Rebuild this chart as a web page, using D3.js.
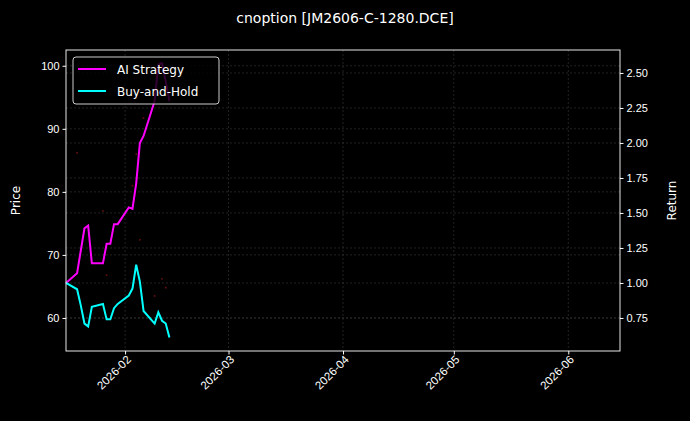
<!DOCTYPE html>
<html><head><meta charset="utf-8">
<script src="https://cdn.jsdelivr.net/npm/d3@7"></script>
<style>body{margin:0;background:#000}svg{font-family:"DejaVu Sans",sans-serif}</style>
</head><body><div id="chart"></div>
<script>
const width = 690, height = 421;
const margin = { top: 50, right: 70, bottom: 70, left: 66 };

const dates = ["2026-01-16","2026-01-19","2026-01-20","2026-01-21","2026-01-22","2026-01-23","2026-01-26","2026-01-27","2026-01-28","2026-01-29","2026-01-30","2026-02-02","2026-02-03","2026-02-04","2026-02-05","2026-02-06","2026-02-09","2026-02-10","2026-02-11","2026-02-12","2026-02-13"];
const aiStrategy = [1.0,1.07,1.23,1.39,1.41,1.14,1.14,1.28,1.28,1.42,1.42,1.54,1.53,1.71,2.0,2.05,2.30,2.56,2.57,2.44,2.30];
const buyHold = [1.0,0.955,0.84,0.71,0.69,0.83,0.85,0.74,0.74,0.82,0.85,0.91,0.96,1.13,1.01,0.80,0.71,0.79,0.73,0.71,0.61];
const priceDates = ["2026-01-19","2026-01-26","2026-01-27","2026-02-03","2026-02-04","2026-02-05","2026-02-06","2026-02-09","2026-02-11","2026-02-12"];
const prices = [86.2,77.0,66.8,81.0,86.0,72.4,91.7,63.5,66.2,64.8];
const priceTicks = [60,70,80,90,100];
const returnTicks = [0.75,1.0,1.25,1.5,1.75,2.0,2.25,2.5];

const parse = d3.timeParse("%Y-%m-%d");
const svg = d3.select("#chart").append("svg").attr("width", width).attr("height", height);
svg.append("rect").attr("width", width).attr("height", height).attr("fill", "#000");
const w = width - margin.left - margin.right, h = height - margin.top - margin.bottom;
const g = svg.append("g").attr("transform", "translate(" + margin.left + "," + margin.top + ")");

const x = d3.scaleTime().domain([parse("2026-01-16"), parse("2026-06-15")]).range([0, w]);
const yP = d3.scaleLinear().domain([54.76, 102.5]).range([h, 0]);
const yR = d3.scaleLinear().domain([0.514, 2.664]).range([h, 0]);
const monthTicks = ["2026-02-01","2026-03-01","2026-04-01","2026-05-01","2026-06-01"].map(parse);

// grid
const grid = g.append("g").attr("stroke", "#444").attr("stroke-dasharray", "2,2").attr("stroke-width", 0.5);
monthTicks.forEach(t => grid.append("line").attr("x1", x(t)).attr("x2", x(t)).attr("y1", 0).attr("y2", h));
priceTicks.forEach(t => grid.append("line").attr("x1", 0).attr("x2", w).attr("y1", yP(t)).attr("y2", yP(t)));
returnTicks.forEach(t => grid.append("line").attr("x1", 0).attr("x2", w).attr("y1", yR(t)).attr("y2", yR(t)));

// price dots
g.selectAll(".p").data(prices).join("circle")
  .attr("cx", (d, i) => x(parse(priceDates[i]))).attr("cy", d => yP(d)).attr("r", 0.9).attr("fill", "#701010");

const line = d3.line().x((d, i) => x(parse(dates[i]))).y(d => yR(d));
g.append("path").datum(aiStrategy).attr("d", line).attr("fill", "none").attr("stroke", "#ff00ff").attr("stroke-width", 2);
g.append("path").datum(buyHold).attr("d", line).attr("fill", "none").attr("stroke", "#00ffff").attr("stroke-width", 2);

// axes
const styleAxis = sel => { sel.selectAll("path,line").attr("stroke", "#fff"); sel.selectAll("text").attr("fill", "#fff").style("font-size", "11px"); };
g.append("g").call(d3.axisLeft(yP).tickValues(priceTicks).tickSize(3.5)).call(styleAxis).select(".domain").remove();
g.append("g").attr("transform", "translate(" + w + ",0)").call(d3.axisRight(yR).tickValues(returnTicks).tickSize(3.5).tickFormat(d3.format(".2f"))).call(styleAxis).select(".domain").remove();
const xa = g.append("g").attr("transform", "translate(0," + h + ")").call(d3.axisBottom(x).tickValues(monthTicks).tickSize(3.5).tickFormat(d3.timeFormat("%Y-%m"))).call(styleAxis);
xa.select(".domain").remove();
xa.selectAll("text").attr("text-anchor", "end").attr("y", 4).attr("dy", "0.6em").attr("dx", "-0.2em").attr("transform", "rotate(-45)").style("font-size", "11.5px");
g.append("rect").attr("width", w).attr("height", h).attr("fill", "none").attr("stroke", "#fff").attr("stroke-width", 0.9);

svg.append("text").attr("x", 20).attr("y", margin.top + h / 2).attr("transform", "rotate(-90,20," + (margin.top + h / 2) + ")")
  .attr("text-anchor", "middle").attr("fill", "#fff").style("font-size", "12px").text("Price");
svg.append("text").attr("x", 676).attr("y", margin.top + h / 2).attr("transform", "rotate(-90,676," + (margin.top + h / 2) + ")")
  .attr("text-anchor", "middle").attr("fill", "#fff").style("font-size", "12px").text("Return");
svg.append("text").attr("x", 345).attr("y", 23).attr("text-anchor", "middle").attr("fill", "#fff").style("font-size", "14px").text("cnoption [JM2606-C-1280.DCE]");

// legend
const lg = g.append("g").attr("transform", "translate(7,7)");
lg.append("rect").attr("width", 146).attr("height", 47).attr("rx", 3).attr("fill", "#000").attr("fill-opacity", 0.8).attr("stroke", "#ccc");
[["AI Strategy", "#ff00ff"], ["Buy-and-Hold", "#00ffff"]].forEach((d, i) => {
  lg.append("line").attr("x1", 5).attr("x2", 33).attr("y1", 12 + i * 22).attr("y2", 12 + i * 22).attr("stroke", d[1]).attr("stroke-width", 2);
  lg.append("text").attr("x", 44).attr("y", 16.5 + i * 22).attr("fill", "#fff").style("font-size", "12px").text(d[0]);
});
</script></body></html>
